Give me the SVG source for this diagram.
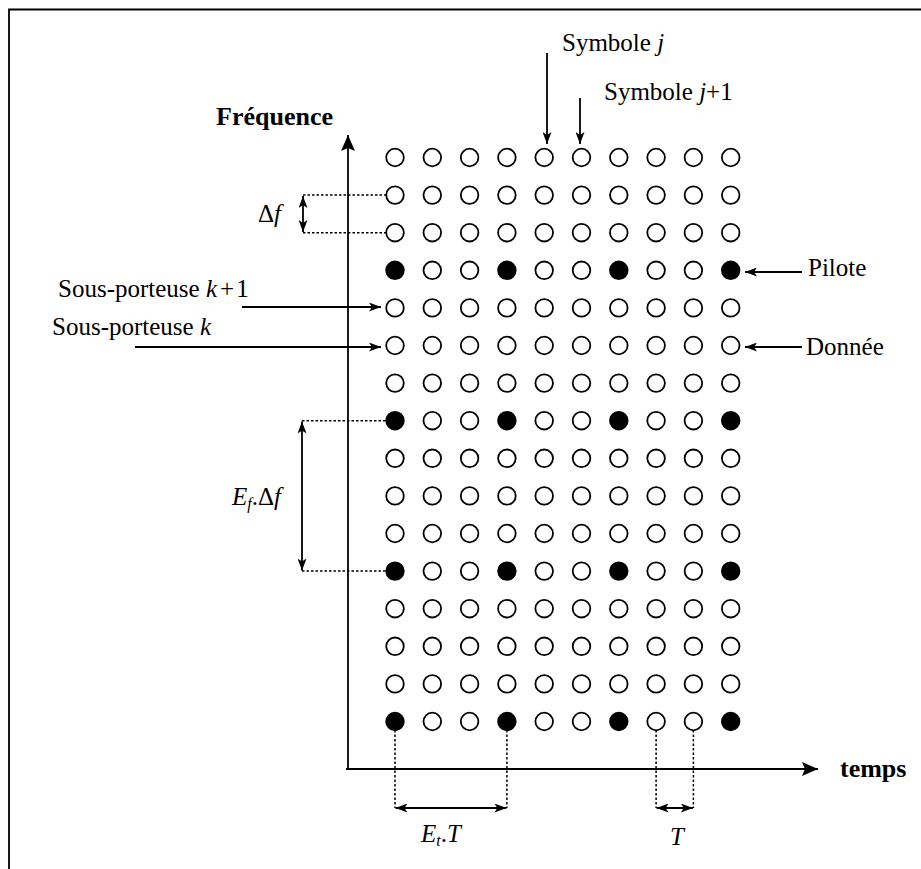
<svg xmlns="http://www.w3.org/2000/svg" width="921" height="869" viewBox="0 0 921 869">
<style>
  text { font-family: "Liberation Serif", "Times New Roman", serif; font-size: 25px; fill: #000; }
  .b { font-weight: bold; font-size: 26px; }
  .i { font-style: italic; }
  .ln { stroke: #000; stroke-width: 1.8; fill: none; }
  .dot { stroke: #000; stroke-width: 1.5; stroke-dasharray: 2.5 2; fill: none; }
  .o { fill: #fff; stroke: #000; stroke-width: 1.8; }
  .p { fill: #000; stroke: #000; stroke-width: 1.8; }
</style>
<defs>
  <marker id="ah" viewBox="0 0 12 9" refX="12" refY="4.5" markerWidth="12" markerHeight="9" markerUnits="userSpaceOnUse" orient="auto-start-reverse">
    <path d="M0,0 L12,4.5 L0,9 L3,4.5 Z" fill="#000"/>
  </marker>
  <marker id="big" viewBox="0 0 16 14" refX="16" refY="7" markerWidth="16" markerHeight="14" markerUnits="userSpaceOnUse" orient="auto">
    <path d="M0,0 L16,7 L0,14 L3,7 Z" fill="#000"/>
  </marker>
</defs>
<rect width="921" height="869" fill="#fff"/>
<g id="frame">
  <path class="ln" d="M921,9.5 H9 V869" stroke-width="2"/>
</g>
<g id="axes">
  <line class="ln" x1="348" y1="770" x2="348" y2="135" marker-end="url(#big)"/>
  <line class="ln" x1="346" y1="769" x2="818" y2="769" marker-end="url(#big)"/>
  <text x="216" y="125" class="b">Fréquence</text>
  <text x="840" y="777" class="b">temps</text>
</g>
<g id="grid">
  <g id="row1">
    <circle class="o" cx="395" cy="157.5" r="8.8"/><circle class="o" cx="432.3" cy="157.5" r="8.8"/><circle class="o" cx="469.6" cy="157.5" r="8.8"/><circle class="o" cx="506.9" cy="157.5" r="8.8"/><circle class="o" cx="544.2" cy="157.5" r="8.8"/><circle class="o" cx="581.5" cy="157.5" r="8.8"/><circle class="o" cx="618.8" cy="157.5" r="8.8"/><circle class="o" cx="656.1" cy="157.5" r="8.8"/><circle class="o" cx="693.4" cy="157.5" r="8.8"/><circle class="o" cx="730.7" cy="157.5" r="8.8"/>
  </g>
  <g id="row2">
    <circle class="o" cx="395" cy="195.1" r="8.8"/><circle class="o" cx="432.3" cy="195.1" r="8.8"/><circle class="o" cx="469.6" cy="195.1" r="8.8"/><circle class="o" cx="506.9" cy="195.1" r="8.8"/><circle class="o" cx="544.2" cy="195.1" r="8.8"/><circle class="o" cx="581.5" cy="195.1" r="8.8"/><circle class="o" cx="618.8" cy="195.1" r="8.8"/><circle class="o" cx="656.1" cy="195.1" r="8.8"/><circle class="o" cx="693.4" cy="195.1" r="8.8"/><circle class="o" cx="730.7" cy="195.1" r="8.8"/>
  </g>
  <g id="row3">
    <circle class="o" cx="395" cy="232.7" r="8.8"/><circle class="o" cx="432.3" cy="232.7" r="8.8"/><circle class="o" cx="469.6" cy="232.7" r="8.8"/><circle class="o" cx="506.9" cy="232.7" r="8.8"/><circle class="o" cx="544.2" cy="232.7" r="8.8"/><circle class="o" cx="581.5" cy="232.7" r="8.8"/><circle class="o" cx="618.8" cy="232.7" r="8.8"/><circle class="o" cx="656.1" cy="232.7" r="8.8"/><circle class="o" cx="693.4" cy="232.7" r="8.8"/><circle class="o" cx="730.7" cy="232.7" r="8.8"/>
  </g>
  <g id="row4">
    <circle class="p" cx="395" cy="270.3" r="8.8"/><circle class="o" cx="432.3" cy="270.3" r="8.8"/><circle class="o" cx="469.6" cy="270.3" r="8.8"/><circle class="p" cx="506.9" cy="270.3" r="8.8"/><circle class="o" cx="544.2" cy="270.3" r="8.8"/><circle class="o" cx="581.5" cy="270.3" r="8.8"/><circle class="p" cx="618.8" cy="270.3" r="8.8"/><circle class="o" cx="656.1" cy="270.3" r="8.8"/><circle class="o" cx="693.4" cy="270.3" r="8.8"/><circle class="p" cx="730.7" cy="270.3" r="8.8"/>
  </g>
  <g id="row5">
    <circle class="o" cx="395" cy="307.9" r="8.8"/><circle class="o" cx="432.3" cy="307.9" r="8.8"/><circle class="o" cx="469.6" cy="307.9" r="8.8"/><circle class="o" cx="506.9" cy="307.9" r="8.8"/><circle class="o" cx="544.2" cy="307.9" r="8.8"/><circle class="o" cx="581.5" cy="307.9" r="8.8"/><circle class="o" cx="618.8" cy="307.9" r="8.8"/><circle class="o" cx="656.1" cy="307.9" r="8.8"/><circle class="o" cx="693.4" cy="307.9" r="8.8"/><circle class="o" cx="730.7" cy="307.9" r="8.8"/>
  </g>
  <g id="row6">
    <circle class="o" cx="395" cy="345.5" r="8.8"/><circle class="o" cx="432.3" cy="345.5" r="8.8"/><circle class="o" cx="469.6" cy="345.5" r="8.8"/><circle class="o" cx="506.9" cy="345.5" r="8.8"/><circle class="o" cx="544.2" cy="345.5" r="8.8"/><circle class="o" cx="581.5" cy="345.5" r="8.8"/><circle class="o" cx="618.8" cy="345.5" r="8.8"/><circle class="o" cx="656.1" cy="345.5" r="8.8"/><circle class="o" cx="693.4" cy="345.5" r="8.8"/><circle class="o" cx="730.7" cy="345.5" r="8.8"/>
  </g>
  <g id="row7">
    <circle class="o" cx="395" cy="383.1" r="8.8"/><circle class="o" cx="432.3" cy="383.1" r="8.8"/><circle class="o" cx="469.6" cy="383.1" r="8.8"/><circle class="o" cx="506.9" cy="383.1" r="8.8"/><circle class="o" cx="544.2" cy="383.1" r="8.8"/><circle class="o" cx="581.5" cy="383.1" r="8.8"/><circle class="o" cx="618.8" cy="383.1" r="8.8"/><circle class="o" cx="656.1" cy="383.1" r="8.8"/><circle class="o" cx="693.4" cy="383.1" r="8.8"/><circle class="o" cx="730.7" cy="383.1" r="8.8"/>
  </g>
  <g id="row8">
    <circle class="p" cx="395" cy="420.7" r="8.8"/><circle class="o" cx="432.3" cy="420.7" r="8.8"/><circle class="o" cx="469.6" cy="420.7" r="8.8"/><circle class="p" cx="506.9" cy="420.7" r="8.8"/><circle class="o" cx="544.2" cy="420.7" r="8.8"/><circle class="o" cx="581.5" cy="420.7" r="8.8"/><circle class="p" cx="618.8" cy="420.7" r="8.8"/><circle class="o" cx="656.1" cy="420.7" r="8.8"/><circle class="o" cx="693.4" cy="420.7" r="8.8"/><circle class="p" cx="730.7" cy="420.7" r="8.8"/>
  </g>
  <g id="row9">
    <circle class="o" cx="395" cy="458.3" r="8.8"/><circle class="o" cx="432.3" cy="458.3" r="8.8"/><circle class="o" cx="469.6" cy="458.3" r="8.8"/><circle class="o" cx="506.9" cy="458.3" r="8.8"/><circle class="o" cx="544.2" cy="458.3" r="8.8"/><circle class="o" cx="581.5" cy="458.3" r="8.8"/><circle class="o" cx="618.8" cy="458.3" r="8.8"/><circle class="o" cx="656.1" cy="458.3" r="8.8"/><circle class="o" cx="693.4" cy="458.3" r="8.8"/><circle class="o" cx="730.7" cy="458.3" r="8.8"/>
  </g>
  <g id="row10">
    <circle class="o" cx="395" cy="495.9" r="8.8"/><circle class="o" cx="432.3" cy="495.9" r="8.8"/><circle class="o" cx="469.6" cy="495.9" r="8.8"/><circle class="o" cx="506.9" cy="495.9" r="8.8"/><circle class="o" cx="544.2" cy="495.9" r="8.8"/><circle class="o" cx="581.5" cy="495.9" r="8.8"/><circle class="o" cx="618.8" cy="495.9" r="8.8"/><circle class="o" cx="656.1" cy="495.9" r="8.8"/><circle class="o" cx="693.4" cy="495.9" r="8.8"/><circle class="o" cx="730.7" cy="495.9" r="8.8"/>
  </g>
  <g id="row11">
    <circle class="o" cx="395" cy="533.5" r="8.8"/><circle class="o" cx="432.3" cy="533.5" r="8.8"/><circle class="o" cx="469.6" cy="533.5" r="8.8"/><circle class="o" cx="506.9" cy="533.5" r="8.8"/><circle class="o" cx="544.2" cy="533.5" r="8.8"/><circle class="o" cx="581.5" cy="533.5" r="8.8"/><circle class="o" cx="618.8" cy="533.5" r="8.8"/><circle class="o" cx="656.1" cy="533.5" r="8.8"/><circle class="o" cx="693.4" cy="533.5" r="8.8"/><circle class="o" cx="730.7" cy="533.5" r="8.8"/>
  </g>
  <g id="row12">
    <circle class="p" cx="395" cy="571.1" r="8.8"/><circle class="o" cx="432.3" cy="571.1" r="8.8"/><circle class="o" cx="469.6" cy="571.1" r="8.8"/><circle class="p" cx="506.9" cy="571.1" r="8.8"/><circle class="o" cx="544.2" cy="571.1" r="8.8"/><circle class="o" cx="581.5" cy="571.1" r="8.8"/><circle class="p" cx="618.8" cy="571.1" r="8.8"/><circle class="o" cx="656.1" cy="571.1" r="8.8"/><circle class="o" cx="693.4" cy="571.1" r="8.8"/><circle class="p" cx="730.7" cy="571.1" r="8.8"/>
  </g>
  <g id="row13">
    <circle class="o" cx="395" cy="608.7" r="8.8"/><circle class="o" cx="432.3" cy="608.7" r="8.8"/><circle class="o" cx="469.6" cy="608.7" r="8.8"/><circle class="o" cx="506.9" cy="608.7" r="8.8"/><circle class="o" cx="544.2" cy="608.7" r="8.8"/><circle class="o" cx="581.5" cy="608.7" r="8.8"/><circle class="o" cx="618.8" cy="608.7" r="8.8"/><circle class="o" cx="656.1" cy="608.7" r="8.8"/><circle class="o" cx="693.4" cy="608.7" r="8.8"/><circle class="o" cx="730.7" cy="608.7" r="8.8"/>
  </g>
  <g id="row14">
    <circle class="o" cx="395" cy="646.3" r="8.8"/><circle class="o" cx="432.3" cy="646.3" r="8.8"/><circle class="o" cx="469.6" cy="646.3" r="8.8"/><circle class="o" cx="506.9" cy="646.3" r="8.8"/><circle class="o" cx="544.2" cy="646.3" r="8.8"/><circle class="o" cx="581.5" cy="646.3" r="8.8"/><circle class="o" cx="618.8" cy="646.3" r="8.8"/><circle class="o" cx="656.1" cy="646.3" r="8.8"/><circle class="o" cx="693.4" cy="646.3" r="8.8"/><circle class="o" cx="730.7" cy="646.3" r="8.8"/>
  </g>
  <g id="row15">
    <circle class="o" cx="395" cy="683.9" r="8.8"/><circle class="o" cx="432.3" cy="683.9" r="8.8"/><circle class="o" cx="469.6" cy="683.9" r="8.8"/><circle class="o" cx="506.9" cy="683.9" r="8.8"/><circle class="o" cx="544.2" cy="683.9" r="8.8"/><circle class="o" cx="581.5" cy="683.9" r="8.8"/><circle class="o" cx="618.8" cy="683.9" r="8.8"/><circle class="o" cx="656.1" cy="683.9" r="8.8"/><circle class="o" cx="693.4" cy="683.9" r="8.8"/><circle class="o" cx="730.7" cy="683.9" r="8.8"/>
  </g>
  <g id="row16">
    <circle class="p" cx="395" cy="721.5" r="8.8"/><circle class="o" cx="432.3" cy="721.5" r="8.8"/><circle class="o" cx="469.6" cy="721.5" r="8.8"/><circle class="p" cx="506.9" cy="721.5" r="8.8"/><circle class="o" cx="544.2" cy="721.5" r="8.8"/><circle class="o" cx="581.5" cy="721.5" r="8.8"/><circle class="p" cx="618.8" cy="721.5" r="8.8"/><circle class="o" cx="656.1" cy="721.5" r="8.8"/><circle class="o" cx="693.4" cy="721.5" r="8.8"/><circle class="p" cx="730.7" cy="721.5" r="8.8"/>
  </g>
</g>
<g id="connectors">
  <line class="ln" x1="547" y1="53" x2="547" y2="144" marker-end="url(#ah)"/>
  <line class="ln" x1="580" y1="98" x2="580" y2="144" marker-end="url(#ah)"/>
  <line class="ln" x1="242" y1="307" x2="381" y2="307" marker-end="url(#ah)"/>
  <line class="ln" x1="135" y1="347" x2="381" y2="347" marker-end="url(#ah)"/>
  <line class="ln" x1="802" y1="272" x2="745" y2="272" marker-end="url(#ah)"/>
  <line class="ln" x1="802" y1="347" x2="745" y2="347" marker-end="url(#ah)"/>
  <path class="dot" d="M303,195.1 H386 M303,232.7 H386"/>
  <line class="ln" x1="303" y1="196" x2="303" y2="232" marker-start="url(#ah)" marker-end="url(#ah)"/>
  <path class="dot" d="M302,420.7 H386 M302,571.1 H386"/>
  <line class="ln" x1="302" y1="421.5" x2="302" y2="570.5" marker-start="url(#ah)" marker-end="url(#ah)"/>
  <path class="dot" d="M395,730 V808 M506.9,730 V808"/>
  <line class="ln" x1="395.5" y1="808" x2="506.4" y2="808" marker-start="url(#ah)" marker-end="url(#ah)"/>
  <path class="dot" d="M656.1,730 V808 M693.4,730 V808"/>
  <line class="ln" x1="656.6" y1="808" x2="692.9" y2="808" marker-start="url(#ah)" marker-end="url(#ah)"/>
</g>
<g id="labels">
  <text x="562" y="51">Symbole <tspan class="i">j</tspan></text>
  <text x="604" y="100">Symbole <tspan class="i">j</tspan>+1</text>
  <text x="258" y="222">Δ<tspan class="i">f</tspan></text>
  <text x="58" y="297">Sous-porteuse <tspan class="i">k</tspan><tspan dx="3">+</tspan><tspan dx="2">1</tspan></text>
  <text x="52" y="335">Sous-porteuse <tspan class="i">k</tspan></text>
  <text x="808" y="276">Pilote</text>
  <text x="806" y="355">Donnée</text>
  <text x="232" y="505"><tspan class="i">E</tspan><tspan class="i" font-size="16" dy="4">f</tspan><tspan dy="-4">.Δ</tspan><tspan class="i">f</tspan></text>
  <text x="421" y="842"><tspan class="i">E</tspan><tspan class="i" font-size="16" dy="4">t</tspan><tspan dy="-4">.</tspan><tspan class="i">T</tspan></text>
  <text x="670" y="845" class="i">T</text>
</g>
</svg>
